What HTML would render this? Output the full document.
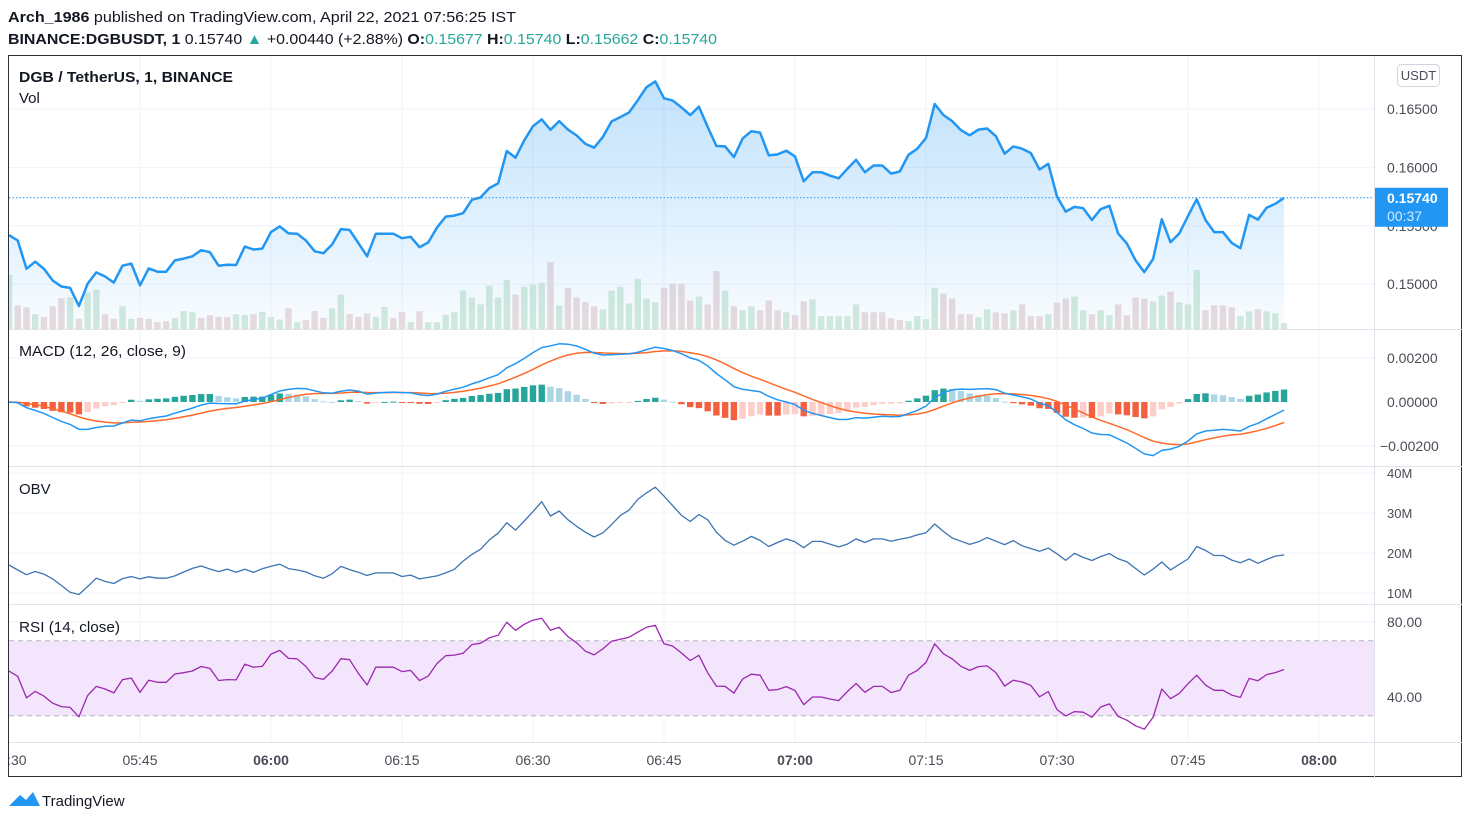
<!DOCTYPE html>
<html><head><meta charset="utf-8">
<style>
html,body{margin:0;padding:0;background:#fff;width:1470px;height:824px;overflow:hidden}
svg{display:block;font-family:"Liberation Sans",sans-serif}
</style></head>
<body>
<svg id="chart" width="1470" height="824" viewBox="0 0 1470 824" xmlns="http://www.w3.org/2000/svg">
<defs>
<clipPath id="plotClip"><rect x="9" y="56" width="1365" height="686"/></clipPath>
<linearGradient id="areaGrad" x1="0" y1="0" x2="0" y2="1">
<stop offset="0" stop-color="#2196f3" stop-opacity="0.28"/>
<stop offset="1" stop-color="#2196f3" stop-opacity="0.03"/>
</linearGradient>
</defs>
<g>
<text x="8" y="22" font-size="15" fill="#131722" textLength="508" lengthAdjust="spacingAndGlyphs"><tspan font-weight="bold">Arch_1986</tspan> published on TradingView.com, April 22, 2021 07:56:25 IST</text>
<text x="8" y="44" font-size="15" fill="#131722" textLength="709" lengthAdjust="spacingAndGlyphs"><tspan font-weight="bold">BINANCE:DGBUSDT, 1</tspan> 0.15740 <tspan fill="#26a69a">▲</tspan> +0.00440 (+2.88%) <tspan font-weight="bold">O:</tspan><tspan fill="#26a69a">0.15677</tspan> <tspan font-weight="bold">H:</tspan><tspan fill="#26a69a">0.15740</tspan> <tspan font-weight="bold">L:</tspan><tspan fill="#26a69a">0.15662</tspan> <tspan font-weight="bold">C:</tspan><tspan fill="#26a69a">0.15740</tspan></text>
</g>
<rect x="8.5" y="55.5" width="1453" height="721" fill="none" stroke="#2a2e39" stroke-width="1"/>
<g id="grid"></g>
<g id="panes" clip-path="url(#plotClip)"></g>
<g id="axes"></g>
<g>
<path d="M9 806 L20 795 L26 800 L33 792 L40 806 Z" fill="#2196f3"/>
<text x="42" y="806" font-size="15" fill="#131722">TradingView</text>
</g>
</svg>
<script>
// ---- data ----
const closes = [0.15420,0.15374,0.15132,0.15193,0.15132,0.15032,0.14980,0.14968,0.14813,0.15003,
0.15101,0.15066,0.15014,0.15158,0.15176,0.14991,0.15135,0.15107,0.15107,0.15204,
0.15219,0.15239,0.15291,0.15274,0.15158,0.15167,0.15164,0.15322,0.15297,0.15305,
0.15446,0.15495,0.15435,0.15432,0.15374,0.15282,0.15265,0.15340,0.15472,0.15464,
0.15354,0.15239,0.15432,0.15432,0.15432,0.15394,0.15406,0.15317,0.15357,0.15484,
0.15579,0.15587,0.15608,0.15723,0.15743,0.15823,0.15864,0.16140,0.16083,0.16232,
0.16353,0.16411,0.16322,0.16396,0.16324,0.16273,0.16201,0.16169,0.16261,0.16394,
0.16431,0.16471,0.16575,0.16687,0.16736,0.16592,0.16572,0.16514,0.16448,0.16520,
0.16347,0.16183,0.16180,0.16088,0.16247,0.16310,0.16298,0.16103,0.16111,0.16143,
0.16094,0.15881,0.15959,0.15959,0.15930,0.15907,0.15988,0.16065,0.15959,0.16016,
0.16016,0.15947,0.15965,0.16108,0.16160,0.16252,0.16543,0.16448,0.16396,0.16319,
0.16275,0.16324,0.16333,0.16267,0.16117,0.16180,0.16160,0.16123,0.15982,0.16031,
0.15751,0.15622,0.15662,0.15651,0.15550,0.15642,0.15671,0.15435,0.15348,0.15204,
0.15104,0.15216,0.15556,0.15360,0.15435,0.15584,0.15728,0.15550,0.15446,0.15446,
0.15354,0.15308,0.15593,0.15553,0.15654,0.15688,0.15740];
// volume in units of VOL_UNIT
const volumes = [165,72,66,45,37,69,94,97,31,112,
120,45,31,69,31,34,31,21,24,34,
55,51,34,42,37,36,45,43,45,52,
36,29,63,21,27,55,34,63,105,46,
37,47,37,67,34,52,21,54,21,21,
43,51,117,96,75,132,96,150,105,129,
135,141,204,72,125,96,82,69,60,117,
129,78,153,
93,81,126,138,138,87,99,75,177,117,
69,57,69,57,87,57,51,42,84,90,
39,39,39,39,75,51,51,51,33,27,
24,39,30,126,108,93,45,45,36,60,
51,48,57,75,39,39,45,81,93,99,
57,45,57,42,75,42,96,93,84,102,
114,81,75,180,57,72,72,66,39,54,
60,54,48,18];
const volUp = [1,0,0,1,0,0,0,1,0,1,1,0,0,1,1,0,0,0,0,1,1,1,0,0,0,0,1,1,0,1,1,1,0,1,0,0,0,1,1,0,0,0,1,1,0,0,1,0,1,1,1,1,1,1,1,1,1,1,0,1,1,1,0,1,0,0,0,0,1,1,1,1,1,
1,1,0,0,0,0,1,0,0,1,0,1,1,0,0,0,1,0,0,1,1,1,1,1,1,0,0,0,0,0,1,1,1,1,0,0,0,0,1,1,0,0,1,0,0,0,1,0,0,1,1,0,1,1,0,0,0,0,1,1,0,1,1,1,0,0,0,0,1,1,0,1,1,1];
const VOL_UNIT = 17500;
const OBV_START = 17000000;
const priceTicks = [0.165,0.160,0.155,0.150];
const macdTicks = [0.002,0,-0.002];
const macdTickLabels = ["0.00200","0.00000","\u22120.00200"];
const obvTicks = [40,30,20,10];
const rsiTicks = [80,40];
const rsiBand = [70,30];
const timeLabels = ["05:30","05:45","06:00","06:15","06:30","06:45","07:00","07:15","07:30","07:45","08:00"];
const timeMinutes = [0,15,30,45,60,75,90,105,120,135,150];
const timeBold = [0,0,1,0,0,0,1,0,0,0,1];

// ---- scales ----
const X0 = 9, PX_PER_MIN = 131/15;
const xAt = m => X0 + m*PX_PER_MIN;
const yPrice = p => 109 + (0.165 - p)*11680;
const yVol = v => 329 - v/3.05;
const yMacd = v => 402 - v*22000;
const yObv = v => 473 + (40 - v/1e6)*4;
const yRsi = v => 622 + (80 - v)*1.875;

// ---- indicators ----
function ema(arr, n){const k=2/(n+1);const out=[arr[0]];for(let i=1;i<arr.length;i++)out.push(arr[i]*k+out[i-1]*(1-k));return out;}
const e12 = ema(closes,12), e26 = ema(closes,26);
const macd = closes.map((c,i)=>e12[i]-e26[i]);
const signal = ema(macd,9);
const hist = macd.map((m,i)=>m-signal[i]);
const obv = [OBV_START];
for(let i=1;i<closes.length;i++){const d=closes[i]-closes[i-1];obv.push(obv[i-1]+(d>0?1:d<0?-1:0)*volumes[i]*VOL_UNIT);}
const rsi=[];let ag=0.00035, al=0.0003;
for(let i=0;i<closes.length;i++){if(i>0){const d=closes[i]-closes[i-1];ag=(ag*13+Math.max(d,0))/14;al=(al*13+Math.max(-d,0))/14;}rsi.push(100-100/(1+ag/al));}

// ---- drawing ----
const NS="http://www.w3.org/2000/svg";
function mk(tag, attrs, parent){const el=document.createElementNS(NS,tag);for(const k in attrs)el.setAttribute(k,attrs[k]);parent.appendChild(el);return el;}
const grid=document.getElementById('grid'), panes=document.getElementById('panes'), axes=document.getElementById('axes');

// vertical grid
timeMinutes.forEach((m,i)=>{if(i===0)return;const l=mk('line',{x1:xAt(m),x2:xAt(m),y1:56,y2:742,stroke:'#f0f3fa','stroke-width':1},grid);

});
// horizontal grids
priceTicks.forEach(p=>{const l=mk('line',{x1:9,x2:1374,y1:yPrice(p),y2:yPrice(p),stroke:'#f0f3fa'},grid);

});
[0.002,-0.002].forEach(v=>{const l=mk('line',{x1:9,x2:1374,y1:yMacd(v),y2:yMacd(v),stroke:'#f0f3fa'},grid);

});
obvTicks.forEach(v=>{const l=mk('line',{x1:9,x2:1374,y1:yObv(v*1e6),y2:yObv(v*1e6),stroke:'#f0f3fa'},grid);

});
rsiTicks.forEach(v=>{const l=mk('line',{x1:9,x2:1374,y1:yRsi(v),y2:yRsi(v),stroke:'#f0f3fa'},grid);

});
// pane separators
[329.5,466.5,604.5,742.5].forEach(y=>{const l=mk('line',{x1:9,x2:1462,y1:y,y2:y,stroke:'#e0e3eb'},grid);

});
const vs=mk('line',{x1:1374.5,x2:1374.5,y1:56,y2:777,stroke:'#e0e3eb'},grid);



// volume bars
volumes.forEach((v,i)=>{const y=yVol(v);const r=mk('rect',{x:xAt(i)-3.2,y:y,width:6.4,height:329-y,fill:volUp[i]?'#d5ebdc':'#ecdcdd'},panes);

});
// price area + line
let d='';closes.forEach((c,i)=>{d+=(i?'L':'M')+xAt(i).toFixed(1)+' '+yPrice(c).toFixed(1)+' ';});
const last=closes.length-1;
const area=mk('path',{d:d+'L'+xAt(last)+' 329 L'+xAt(0)+' 329 Z',fill:'url(#areaGrad)'},panes);


const pl=mk('path',{d:d,fill:'none',stroke:'#2196f3','stroke-width':2.5,'stroke-linejoin':'round'},panes);


const lastY=yPrice(closes[last]);
const dl=mk('line',{x1:9,x2:1374,y1:lastY,y2:lastY,stroke:'#2196f3','stroke-dasharray':'1.5 2','stroke-width':1},panes);



// MACD histogram
hist.forEach((h,i)=>{const prev=i?hist[i-1]:0;let col;if(h>=0)col=h>=prev?'#26a69a':'#acd6e4';else col=h<prev?'#f4603f':'#fdcdca';
const y0=yMacd(0),y1=yMacd(h);const r=mk('rect',{x:xAt(i)-3.2,y:Math.min(y0,y1),width:6.4,height:Math.max(1,Math.abs(y1-y0)),fill:col},panes);

});
function line(arr,yf,color,w,name){let p='';arr.forEach((v,i)=>{p+=(i?'L':'M')+xAt(i).toFixed(1)+' '+yf(v).toFixed(1)+' ';});const el=mk('path',{d:p,fill:'none',stroke:color,'stroke-width':w,'stroke-linejoin':'round'},panes);

}
line(signal,yMacd,'#ff6a2b',1.5,'macd-signal-line');
line(macd,yMacd,'#2196f3',1.5,'macd-line');
line(obv,yObv,'#3d74b3',1.3,'obv-line');
// RSI band
const band=mk('rect',{x:9,y:yRsi(rsiBand[0]),width:1365,height:yRsi(rsiBand[1])-yRsi(rsiBand[0]),fill:'#f3e5fc'},panes);


rsiBand.forEach(v=>{const l=mk('line',{x1:9,x2:1374,y1:yRsi(v),y2:yRsi(v),stroke:'#b2b5be','stroke-dasharray':'5 4'},panes);

});
line(rsi,yRsi,'#9c27b0',1.3,'rsi-line');

// pane titles
function txt(x,y,s,opts,name,parent){const t=mk('text',Object.assign({x:x,y:y,'font-size':15,fill:'#131722'},opts||{}),parent||axes);t.textContent=s;

return t;}
txt(19,82,'DGB / TetherUS, 1, BINANCE',{'font-weight':'bold',textLength:214,lengthAdjust:'spacingAndGlyphs'},'main-legend-title');
txt(19,103,'Vol',{},'volume-legend');
txt(19,356,'MACD (12, 26, close, 9)',{textLength:167,lengthAdjust:'spacingAndGlyphs'},'macd-legend');
txt(19,494,'OBV',{},'obv-legend');
txt(19,632,'RSI (14, close)',{textLength:101,lengthAdjust:'spacingAndGlyphs'},'rsi-legend');

// axis labels
priceTicks.forEach(p=>{if(p===0.155)return;txt(1387,yPrice(p)+5,p.toFixed(5),{'font-size':14,fill:'#4a4d57'},'price-tick-label');});
const pt=txt(1387,yPrice(0.155)+5,'0.15500',{'font-size':14,fill:'#4a4d57'},'price-tick-label');
macdTicks.forEach((v,i)=>{txt(i===2?1380:1387,yMacd(v)+5,macdTickLabels[i],{'font-size':14,fill:'#4a4d57'},'macd-tick-label');});
obvTicks.forEach(v=>{txt(1387,yObv(v*1e6)+5,v+'M',{'font-size':13,fill:'#4a4d57'},'obv-tick-label');});
rsiTicks.forEach(v=>{txt(1387,yRsi(v)+5,v.toFixed(2),{'font-size':14,fill:'#4a4d57'},'rsi-tick-label');});
timeMinutes.forEach((m,i)=>{const t=txt(xAt(m),765,timeLabels[i],{'font-size':14,'text-anchor':'middle',fill:'#4a4d57','font-weight':timeBold[i]?'bold':'normal'},'time-tick-label');if(i===0)t.setAttribute('clip-path','url(#plotClip2)');});
// clip for first time label
const cp=mk('clipPath',{id:'plotClip2'},document.querySelector('defs'));mk('rect',{x:9,y:742,width:1365,height:35},cp);
// USDT box
const ub=mk('rect',{x:1397.5,y:64.5,width:42,height:22,rx:4,fill:'#fff',stroke:'#d8d2e0'},axes);


txt(1418.5,80,'USDT',{'font-size':13,'text-anchor':'middle',fill:'#4a4d57'},'currency-label');
// last price label
const lb=mk('rect',{x:1375,y:lastY-10,width:73,height:39,fill:'#2196f3'},axes);


txt(1387,lastY+5,closes[last].toFixed(5),{'font-size':14,'font-weight':'bold',fill:'#fff'},'last-price-value');
txt(1387,lastY+23,'00:37',{'font-size':14,fill:'#d6ebfd'},'bar-countdown');
</script>
</body></html>
